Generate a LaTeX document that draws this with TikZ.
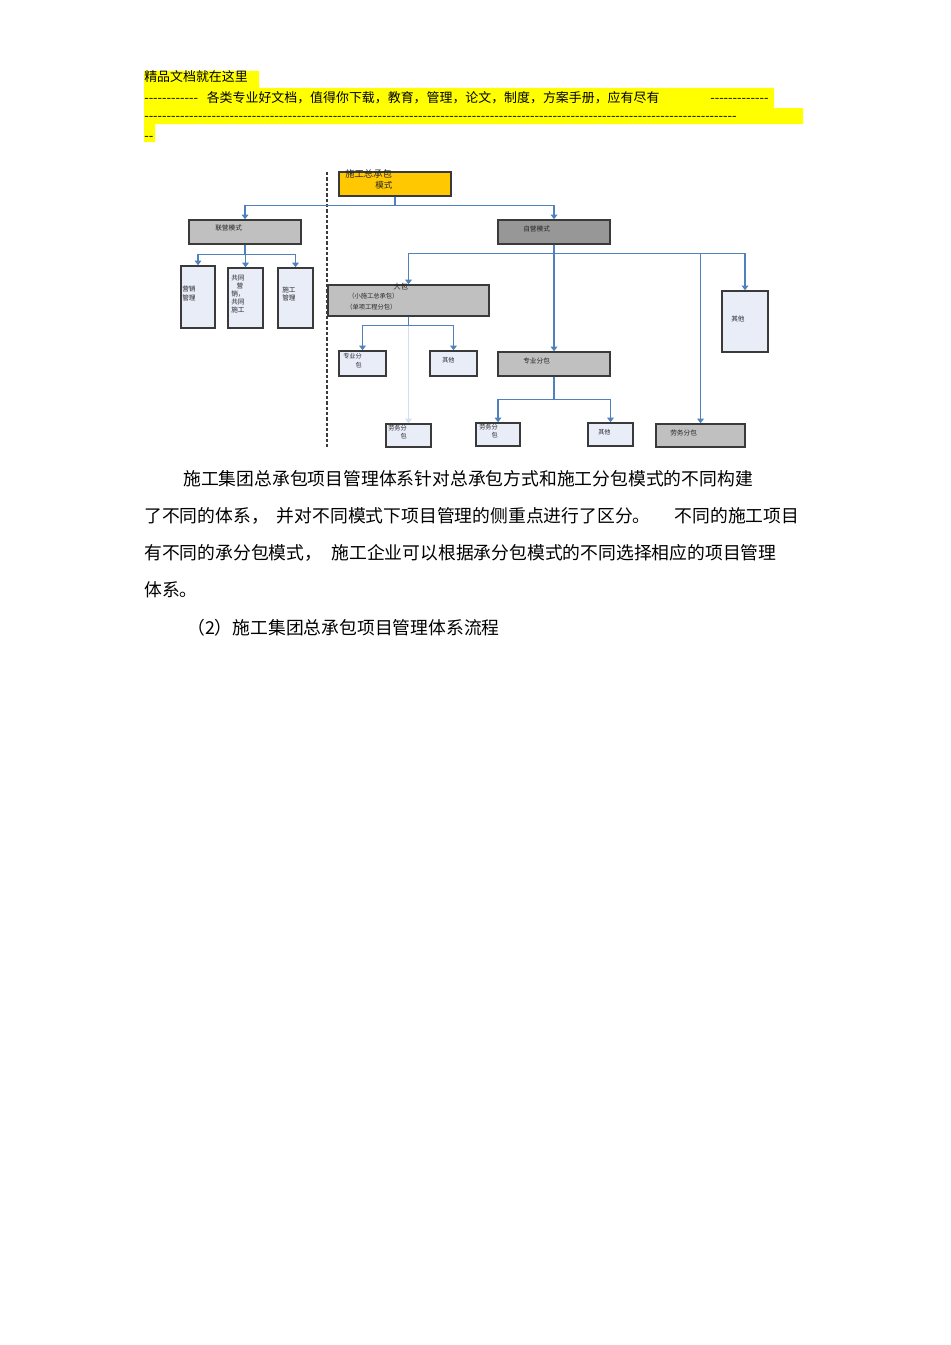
\documentclass[tikz,border=0pt]{standalone}
\usepackage{fontspec}
\setmainfont{Noto Sans CJK SC}
\usetikzlibrary{arrows.meta}

\definecolor{linkblue}{HTML}{4F81BD}
\definecolor{boxline}{HTML}{3A3A3A}
\definecolor{goldfill}{HTML}{FFC800}
\definecolor{grayfill}{HTML}{C0C0C0}
\definecolor{darkfill}{HTML}{979797}
\definecolor{paleblue}{HTML}{E9EDF8}
\definecolor{marker}{HTML}{FFFF00}

\newcommand{\dashrow}[1]{\foreach \k in {1,...,#1}{-\kern0pt}}

\begin{document}
\begin{tikzpicture}[x=0.75pt,y=-0.75pt,>={Triangle[width=5pt,length=3.5pt]},
		conn/.style={->,draw=linkblue,line width=0.9pt},
		faint/.style={conn,draw=linkblue!25},
		box/.style 2 args={draw=boxline,line width=1.1pt,inner sep=0pt,
			minimum width=#1*0.75pt,minimum height=#2*0.75pt},
		lbl/.style={anchor=west,inner sep=0pt,align=left,text=black!85,
			font=\fontsize{5}{6}\selectfont},
		head/.style={anchor=base west,inner sep=0pt,font=\fontsize{9.7}{12}\selectfont},
		body/.style={anchor=base west,inner sep=0pt,font=\fontsize{13.35}{16}\selectfont}]
	\useasboundingbox (0,0) rectangle (950,1345);

	% header band
	\fill[marker] (144,71) rectangle (259,88) (144,88) rectangle (774,108)
		(144,108) rectangle (803,124) (144,124) rectangle (155,142);
	\node[head] (hd1) at (144,81.5) {精品文档就在这里};
	\node[head] (hd2a) at (144,103) {\dashrow{12}};
	\node[head] (hd2b) at (206.5,103) {各类专业好文档，值得你下载，教育，管理，论文，制度，方案手册，应有尽有};
	\node[head] (hd2c) at (710,103) {\dashrow{13}};
	\node[head] (hd3) at (144,120.5) {\dashrow{132}};
	\node[head] (hd4) at (144,140.5) {\dashrow{2}};

	% divider
	\draw[boxline,line width=1.4pt,dash pattern=on 2.6pt off 1.4pt] (327,172) -- (327,447);

	% boxes
	\node[box={112}{24},fill=goldfill] (top) at (395,184) {};
	\node[box={112}{24},fill=grayfill] (lianying) at (245,232) {};
	\node[box={112}{24},fill=darkfill] (ziying) at (554,232) {};
	\node[box={34}{62},fill=paleblue] (yingxiao) at (198,297) {};
	\node[box={35}{60},fill=paleblue] (gongtong) at (245.5,298) {};
	\node[box={35}{60},fill=paleblue] (shigong) at (295.5,298) {};
	\node[box={161}{31},fill=grayfill] (dabao) at (408.5,300.5) {};
	\node[box={46}{61},fill=paleblue] (qitaA) at (745,321.5) {};
	\node[box={47}{25},fill=paleblue] (zhuanyeA) at (362.5,363.5) {};
	\node[box={47}{25},fill=paleblue] (qitaB) at (453.5,363.5) {};
	\node[box={112}{24},fill=grayfill] (zhuanyeB) at (554,364) {};
	\node[box={45}{23},fill=paleblue] (laowuA) at (408.5,435.5) {};
	\node[box={44}{23},fill=paleblue] (laowuB) at (498,434.5) {};
	\node[box={45}{23},fill=paleblue] (qitaC) at (610.5,434.5) {};
	\node[box={89}{23},fill=grayfill] (laowuC) at (700.5,435.5) {};

	% box texts
	\node[lbl,font=\fontsize{7}{8}\selectfont] (topA) at (345,174) {施工总承包};
	\node[lbl,font=\fontsize{6.4}{8}\selectfont] (topB) at (375,185) {模式};
	\node[lbl] (lianyingT) at (215,228) {联营模式};
	\node[lbl] (ziyingT) at (523,229) {自营模式};
	\node[lbl,font=\fontsize{5}{6.75}\selectfont] (yingxiaoT) at (182,293) {营销\\管理};
	\node[lbl] (gongtongT) at (231,293.5) {共同\\\hspace{4pt}营\\销，\\共同\\施工};
	\node[lbl,font=\fontsize{5}{6}\selectfont] (shigongT) at (282,294) {施工\\管理};
	\node[lbl,font=\fontsize{5.6}{6}\selectfont] (dabaoA) at (393,287) {大包};
	\node[lbl,font=\fontsize{4.7}{6}\selectfont] (dabaoB) at (348,296) {（小施工总承包）};
	\node[lbl,font=\fontsize{4.7}{6}\selectfont] (dabaoC) at (346,307) {（单项工程分包）};
	\node[lbl] (qitaAT) at (731,319) {其他};
	\node[lbl,font=\fontsize{4.6}{6.75}\selectfont] (zhuanyeAT) at (343,360.5) {专业分\\\hspace{2em}包};
	\node[lbl,font=\fontsize{4.6}{6}\selectfont] (qitaBT) at (442,360) {其他};
	\node[lbl] (zhuanyeBT) at (523,361) {专业分包};
	\node[lbl,font=\fontsize{4.6}{6}\selectfont] (laowuAT) at (388,432) {劳务分\\\hspace{2em}包};
	\node[lbl,font=\fontsize{4.6}{6}\selectfont] (laowuBT) at (479,431.5) {劳务分\\\hspace{2em}包};
	\node[lbl,font=\fontsize{4.6}{6}\selectfont] (qitaCT) at (598,432) {其他};
	\node[lbl] (laowuCT) at (670,433) {劳务分包};

	% connectors
	\draw[conn] (top.south) -- ++(0,9) -| (lianying.north);
	\draw[conn] (top.south) -- ++(0,9) -| (ziying.north);
	\draw[conn] (lianying.south) -- ++(0,10) -| (yingxiao.north);
	\draw[conn] (lianying.south) -- ++(0,10) -| (gongtong.north);
	\draw[conn] (lianying.south) -- ++(0,10) -| (shigong.north);
	\draw[conn] (ziying.south) -- ++(0,9) -| (dabao.north);
	\draw[conn] (ziying.south) -- (zhuanyeB.north);
	\draw[conn] (ziying.south) -- ++(0,9) -| (laowuC.north);
	\draw[conn] (ziying.south) -- ++(0,9) -| (qitaA.north);
	\draw[faint] (dabao.south) -- (laowuA.north);
	\draw[conn] (dabao.south) -- ++(0,9) -| (zhuanyeA.north);
	\draw[conn] (dabao.south) -- ++(0,9) -| (qitaB.north);
	\draw[conn] (zhuanyeB.south) -- ++(0,23) -| (laowuB.north);
	\draw[conn] (zhuanyeB.south) -- ++(0,23) -| (qitaC.north);

	% body text
	\node[body] (para1) at (183,485) {施工集团总承包项目管理体系针对总承包方式和施工分包模式的不同构建};
	\node[body] (para2) at (144,522) {了不同的体系，\hspace{6pt}并对不同模式下项目管理的侧重点进行了区分。\hspace{18pt}不同的施工项目};
	\node[body] (para3) at (144,559) {有不同的承分包模式，\hspace{7pt}施工企业可以根据承分包模式的不同选择相应的项目管理};
	\node[body] (para4) at (144,596) {体系。};
	\node[body] (para5) at (187,634) {（2）施工集团总承包项目管理体系流程};
\end{tikzpicture}
\end{document}
